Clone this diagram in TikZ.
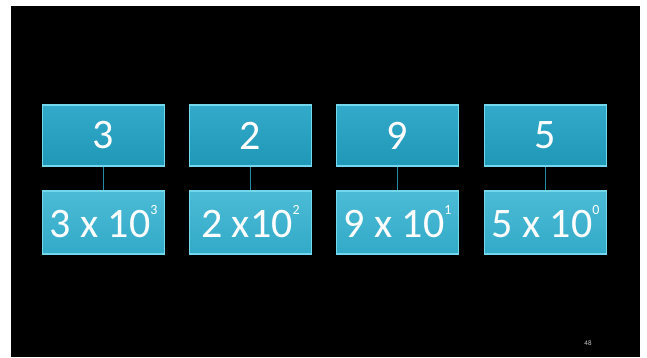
\documentclass[tikz,border=0pt]{standalone}
\usepackage{fontspec}
\setmainfont{Carlito}

\definecolor{slideBlack}{HTML}{000000}
\definecolor{digitTop}{HTML}{33AACA}
\definecolor{digitBottom}{HTML}{1F97B6}
\definecolor{powerTop}{HTML}{4CBBD6}
\definecolor{powerBottom}{HTML}{32AAC8}
\definecolor{boxEdge}{HTML}{74D8EC}
\definecolor{linkTeal}{HTML}{2489A3}

\newcommand{\expo}[1]{\raisebox{0.55em}{\fontsize{14}{14}\selectfont #1}}

\begin{document}
\begin{tikzpicture}[
    x=1pt, y=-1pt,
    digit/.style={
        rectangle, draw=boxEdge, line width=1.2pt,
        top color=digitTop, bottom color=digitBottom,
        text=white, font=\fontsize{42}{42}\selectfont,
        minimum width=122pt, minimum height=61pt, inner sep=0pt
    },
    power/.style={
        digit, top color=powerTop, bottom color=powerBottom,
        minimum height=63pt
    },
    link/.style={draw=linkTeal, line width=1.5pt},
]

    % white page with the black slide
    \fill[white] (0,0) rectangle (647,357);
    \fill[slideBlack] (11,6) rectangle (640,357);
    \useasboundingbox (0,0) rectangle (647,357);

    % Column x-coordinates.
    \def\xThree{103.5}
    \def\xTwo{250.5}
    \def\xNine{397.5}
    \def\xFive{545.5}

    % Row y-coordinates.
    \def\yDigit{135.5}
    \def\yPower{222.5}

    % ---------- digits (top row) ----------
    \node[digit] (d3) at (\xThree, \yDigit) {3};
    \node[digit] (d2) at (\xTwo, \yDigit) {2};
    \node[digit] (d9) at (\xNine, \yDigit) {9};
    \node[digit] (d5) at (\xFive, \yDigit) {5};

    % ---------- powers of ten (bottom row) ----------
    \node[power] (p3) at (\xThree, \yPower) {\raisebox{2pt}{3 x 10\expo{3}}};
    \node[power] (p2) at (\xTwo, \yPower) {\raisebox{2pt}{2 x10\expo{2}}};
    \node[power] (p9) at (\xNine, \yPower) {\raisebox{2pt}{9 x 10\expo{1}}};
    \node[power] (p5) at (\xFive, \yPower) {\raisebox{2pt}{5 x 10\expo{0}}};

    \draw[link] (d3) -- (p3);
    \draw[link] (d2) -- (p2);
    \draw[link] (d9) -- (p9);
    \draw[link] (d5) -- (p5);

    % slide number
    \node[text=white!80!black, font=\fontsize{7}{7}\selectfont] (slidenum) at (588, 343) {48};
\end{tikzpicture}
\end{document}
